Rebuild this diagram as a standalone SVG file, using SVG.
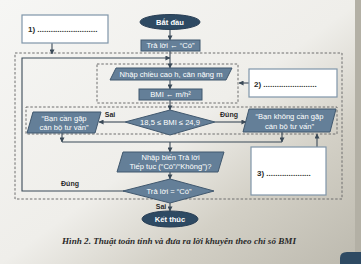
<svg xmlns="http://www.w3.org/2000/svg" width="361" height="264" viewBox="0 0 361 264">
<defs>
<linearGradient id="bg" x1="0" y1="0" x2="1" y2="1">
<stop offset="0" stop-color="#f6f6f4"/>
<stop offset="0.5" stop-color="#efeeea"/>
<stop offset="0.72" stop-color="#d3d0c6"/>
<stop offset="1" stop-color="#bcb9ae"/>
</linearGradient>
<marker id="arr" viewBox="0 0 6 6" refX="5.5" refY="3" markerWidth="5" markerHeight="5" orient="auto" markerUnits="userSpaceOnUse">
<path d="M0,0 L6,3 L0,6 z" fill="#3b4a58"/>
</marker>
<style>
.shape{fill:#647f98;stroke:#41586e;stroke-width:1}
.term{fill:#2e4a63;stroke:#2a3f55;stroke-width:1}
.t{fill:#ffffff;font-family:"Liberation Sans",Arial,sans-serif;font-size:7.6px;text-anchor:middle}
.tb{font-weight:bold}
.ln{fill:none;stroke:#3b4a58;stroke-width:1.1}
.ar{marker-end:url(#arr)}
.dash{fill:none;stroke:#6f6f6f;stroke-width:1;stroke-dasharray:2.5 1.8}
.note{fill:#ffffff;stroke:#7f95a9;stroke-width:1.2}
.nt{fill:#2a2a2a;font-family:"Liberation Sans",Arial,sans-serif;font-size:8px;font-weight:bold}
.lab{fill:#2a2a2a;font-family:"Liberation Sans",Arial,sans-serif;font-size:7px;font-weight:bold;text-anchor:middle}
</style>
</defs>
<rect x="0" y="0" width="361" height="264" fill="url(#bg)"/>
<rect x="355" y="0" width="6" height="264" fill="#b3b0a5"/>
<path d="M340,264 L340,258 Q340,252 347,252 L361,252 L361,264 z" fill="#2e4a63"/>

<g id="regions">
<rect class="dash" x="15" y="53" width="327" height="146"/>
<rect class="dash" x="97" y="64" width="141" height="39"/>
<rect class="dash" x="26" y="107" width="311" height="27"/>
</g>

<g id="connectors">
<line class="ln ar" x1="170" y1="30" x2="170" y2="40"/>
<line class="ln ar" x1="170" y1="51" x2="170" y2="68"/>
<line class="ln ar" x1="170" y1="80" x2="170" y2="89"/>
<line class="ln ar" x1="170" y1="100" x2="170" y2="110"/>
<line class="ln ar" x1="125" y1="122" x2="99" y2="122"/>
<line class="ln ar" x1="215" y1="122" x2="246" y2="122"/>
<line class="ln ar" x1="62" y1="133" x2="62" y2="142"/>
<line class="ln ar" x1="282" y1="132" x2="282" y2="142"/>
<line class="ln" x1="62" y1="142" x2="282" y2="142"/>
<line class="ln ar" x1="170" y1="142" x2="170" y2="152"/>
<line class="ln ar" x1="170" y1="172" x2="170" y2="179"/>
<polyline class="ln ar" points="124,191 22,191 22,58 170,58"/>
<line class="ln ar" x1="170" y1="203" x2="170" y2="211"/>
<line class="ln ar" x1="52" y1="43" x2="52" y2="54"/>
<line class="ln ar" x1="249" y1="83" x2="239" y2="83"/>
<line class="ln ar" x1="317" y1="147" x2="317" y2="134"/>
<text class="lab" x="110" y="117">Sai</text>
<text class="lab" x="229" y="117">Đúng</text>
<text class="lab" x="70" y="186">Đúng</text>
<text class="lab" x="161" y="209">Sai</text>
</g>

<g id="start">
<ellipse class="term" cx="170" cy="22" rx="30" ry="7.5"/>
<text class="t tb" x="170" y="24.7">Bắt đầu</text>
</g>

<g id="init">
<rect class="shape" x="141" y="40" width="59" height="11"/>
<text class="t" x="170.5" y="48.2">Trả lời ← “Có”</text>
</g>

<g id="input">
<polygon class="shape" points="116,68 232,68 226,80 110,80"/>
<text class="t" x="171" y="76.8">Nhập chiều cao h, cân nặng m</text>
</g>

<g id="bmi">
<rect class="shape" x="139" y="89" width="63" height="11"/>
<text class="t" x="170.5" y="97.2">BMI ← m/h²</text>
</g>

<g id="check">
<polygon class="shape" points="170,110 215,122 170,135 125,122"/>
<text class="t" x="170" y="125.2">18,5 ≤ BMI ≤ 24,9</text>
</g>

<g id="advise-yes">
<polygon class="shape" points="33,112 101,112 95,133 27,133"/>
<text class="t" x="64" y="121">“Bạn cần gặp</text>
<text class="t" x="64" y="130">cán bộ tư vấn”</text>
</g>

<g id="advise-no">
<polygon class="shape" points="249,109 336,109 330,132 243,132"/>
<text class="t" x="289.5" y="119">“Bạn không cần gặp</text>
<text class="t" x="289.5" y="128.5">cán bộ tư vấn”</text>
</g>

<g id="ask">
<polygon class="shape" points="123,152 224,152 218,172 117,172"/>
<text class="t" x="170.5" y="160">Nhập biến Trả lời</text>
<text class="t" x="170.5" y="169">Tiếp tục (“Có”/“Không”)?</text>
</g>

<g id="repeat">
<polygon class="shape" points="170,179 214,191 170,203 123,191"/>
<text class="t" x="169" y="193.7">Trả lời = “Có”</text>
</g>

<g id="end">
<ellipse class="term" cx="170" cy="219" rx="28" ry="8"/>
<text class="t tb" x="170" y="221.7">Kết thúc</text>
</g>

<g id="note1">
<rect class="note" x="22" y="15" width="86" height="28"/>
<text class="nt" x="28" y="32">1) ...........................</text>
</g>

<g id="note2">
<rect class="note" x="249" y="69" width="88" height="28"/>
<text class="nt" x="254" y="87">2) ........................</text>
</g>

<g id="note3">
<rect class="note" x="251" y="147" width="75" height="48"/>
<text class="nt" x="257" y="176">3) ....................</text>
</g>

<text x="179" y="244" font-family="Liberation Serif,Times New Roman,serif" font-size="8.5" font-style="italic" font-weight="bold" fill="#2a2a2a" text-anchor="middle" textLength="234" lengthAdjust="spacingAndGlyphs">Hình 2. Thuật toán tính và đưa ra lời khuyên theo chỉ số BMI</text>
</svg>
